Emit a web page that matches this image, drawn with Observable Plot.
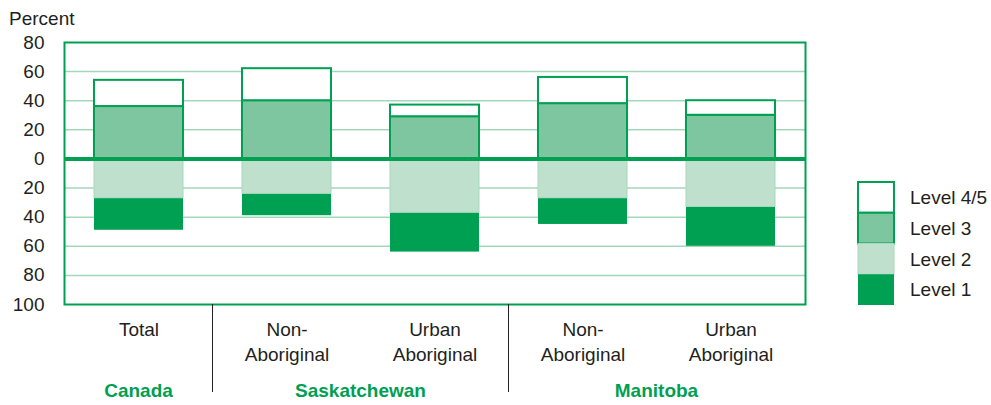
<!DOCTYPE html>
<html>
<head>
<meta charset="utf-8">
<script src="https://cdn.jsdelivr.net/npm/d3@7"></script>
<script src="https://cdn.jsdelivr.net/npm/@observablehq/plot@0.6"></script>
<style>
  html, body { margin: 0; padding: 0; background: #fff; }
  #chart { width: 991px; height: 405px; }
  svg { font-family: "Liberation Sans", Arial, sans-serif; }
</style>
</head>
<body>
<div id="chart"></div>
<script>
// ---- data ----
const categories = ["Canada Total", "SK Non-Aboriginal", "SK Urban Aboriginal", "MB Non-Aboriginal", "MB Urban Aboriginal"];
const categoryLabels = ["Total", "Non-\nAboriginal", "Urban\nAboriginal", "Non-\nAboriginal", "Urban\nAboriginal"];
const groups = ["Canada", "Saskatchewan", "Manitoba"];
const groupSpans = [[0, 0], [1, 2], [3, 4]];
const levels = ["Level 4/5", "Level 3", "Level 2", "Level 1"];
const level45 = [18, 22, 8, 18, 10];
const level3 = [36, 40, 29, 38, 30];
const level2 = [27, 24, 37, 27, 33];
const level1 = [22, 15, 27, 18, 27];
const yTicks = [80, 60, 40, 20, 0, -20, -40, -60, -80, -100];
const gridValues = [60, 40, 20, -20, -40, -60, -80];

const colors = {"Level 4/5": "#ffffff", "Level 3": "#7dc6a0", "Level 2": "#bfe0cd", "Level 1": "#00a052"};
const strokes = {"Level 4/5": "#00a052", "Level 3": "#00a052", "Level 2": "#a9d6bc", "Level 1": "#00a052"};
const green = "#00a052";
const textColor = "#231f20";

// stacked table (positive above zero: L3 then L4/5; negative below: L2 then L1)
const rows = [];
categories.forEach((c, i) => {
  rows.push({cat: c, level: "Level 3", y1: 0, y2: level3[i]});
  rows.push({cat: c, level: "Level 4/5", y1: level3[i], y2: level3[i] + level45[i]});
  rows.push({cat: c, level: "Level 2", y1: 0, y2: -level2[i]});
  rows.push({cat: c, level: "Level 1", y1: -level2[i], y2: -level2[i] - level1[i]});
});
const barMark = (lvl, sw) => Plot.barY(rows.filter(d => d.level === lvl), {
  x: "cat", y1: "y1", y2: "y2", fill: colors[lvl],
  stroke: sw > 0 ? strokes[lvl] : "none", strokeWidth: sw
});

const plot = Plot.plot({
  width: 991, height: 405,
  marginLeft: 64, marginRight: 186, marginTop: 42, marginBottom: 101,
  style: {fontFamily: '"Liberation Sans", Arial, sans-serif', fontSize: "19px", color: textColor, background: "#fff"},
  x: {domain: categories, paddingInner: 0.4, paddingOuter: 0.2, axis: null},
  y: {domain: [-100, 80], axis: null},
  marks: [
    Plot.ruleY(gridValues, {stroke: "#a3d7ba", strokeWidth: 1.5}),
    barMark("Level 1", 0),
    barMark("Level 2", 1),
    barMark("Level 3", 2),
    barMark("Level 4/5", 2),
    Plot.frame({stroke: green, strokeWidth: 2}),
    Plot.ruleY([0], {stroke: green, strokeWidth: 4}),
    Plot.axisY(yTicks, {tickSize: 0, tickPadding: 20, tickFormat: d => Math.abs(d), fontSize: 19, fill: textColor, label: null}),
    Plot.axisX({tickSize: 0, tickPadding: 14, tickFormat: d => categoryLabels[categories.indexOf(d)], fontSize: 19, lineHeight: 1.3, fill: textColor, label: null})
  ]
});
document.getElementById("chart").appendChild(plot);

// annotations: y-axis title, group labels, dividers, legend
const svg = d3.select(plot);
const xs = plot.scale("x");
const bw = xs.bandwidth, step = xs.step;
const cx = c => xs.apply(c) + bw / 2;

svg.append("text").attr("x", 9).attr("y", 25).attr("text-anchor", "start")
  .attr("font-size", 19).attr("fill", textColor).text("Percent");

// dividers between groups
[0, 2].forEach(i => {
  const x = xs.apply(categories[i]) + bw + (step - bw) / 2;
  svg.append("line").attr("x1", x).attr("x2", x).attr("y1", 304).attr("y2", 392)
    .attr("stroke", "#231f20").attr("stroke-width", 1);
});
groups.forEach((g, i) => {
  const [a, b] = groupSpans[i];
  const x = (cx(categories[a]) + cx(categories[b])) / 2;
  svg.append("text").attr("x", x).attr("y", 397).attr("text-anchor", "middle")
    .attr("font-size", 19).attr("font-weight", "bold").attr("fill", green).text(g);
});

// legend
const lg = svg.append("g").attr("transform", "translate(858,182)");
const rowH = 30.75;
levels.forEach((lvl, i) => {
  lg.append("rect").attr("x", 0).attr("y", i * rowH).attr("width", 36).attr("height", rowH)
    .attr("fill", colors[lvl]).attr("stroke", i < 2 ? green : (i === 2 ? "#a9d6bc" : "none")).attr("stroke-width", i < 2 ? 2 : 1);
  lg.append("text").attr("x", 52).attr("y", i * rowH + rowH / 2).attr("dy", "0.35em").attr("text-anchor", "start")
    .attr("font-size", 19).attr("fill", textColor).text(lvl);
});
</script>
</body>
</html>
